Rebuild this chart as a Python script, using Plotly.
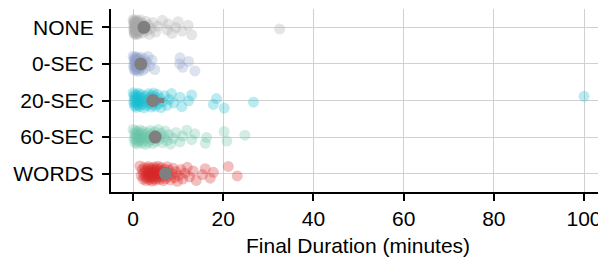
import plotly.graph_objects as go

categories = ["NONE", "0-SEC", "20-SEC", "60-SEC", "WORDS"]
colors = ["#a9a9a9", "#8da0cb", "#17becf", "#66c2a5", "#d62728"]

none_vals = [0.0, 0.1, 0.1, 0.2, 0.2, 0.2, 0.3, 0.3, 0.3, 0.4, 0.4, 0.4, 0.5, 0.5, 0.5, 0.6, 0.6, 0.6,
             0.7, 0.7, 0.7, 0.8, 0.8, 0.9, 0.9, 1.0, 1.0, 1.1, 1.1, 1.2, 1.2, 1.3, 1.4, 1.5, 1.6,
             1.8, 2.0, 2.2, 2.5, 2.8, 3.0, 3.3, 3.6, 4.0, 4.4, 5.0, 5.5, 6.5, 7.5, 7.8, 8.6, 9.5,
             10.0, 10.9, 12.2, 13.0, 32.5]
sec0_vals = [0.0, 0.1, 0.2, 0.2, 0.3, 0.3, 0.4, 0.4, 0.5, 0.5, 0.6, 0.6, 0.7, 0.7, 0.8, 0.8, 0.9, 1.0,
             1.0, 1.1, 1.2, 1.2, 1.3, 1.4, 1.5, 1.6, 1.7, 1.8, 2.0, 2.1, 2.3, 2.5, 2.7, 3.0, 3.3,
             3.7, 4.2, 4.8, 10.3, 10.4, 11.0, 12.3, 13.7]
sec20_vals = [0.0, 0.1, 0.2, 0.3, 0.3, 0.4, 0.5, 0.6, 0.7, 0.8, 0.9, 1.0, 1.1, 1.2, 1.3, 1.4, 1.5,
              1.6, 1.8, 2.0, 2.2, 2.4, 2.6, 2.8, 3.0, 3.2, 3.4, 3.6, 3.8, 4.0, 4.1, 4.2, 4.3, 4.4,
              4.5, 4.6, 4.8, 5.0, 5.2, 5.4, 5.6, 5.9, 6.2, 6.6, 7.0, 7.5, 8.0, 8.5, 9.0, 10.4, 10.8,
              12.3, 13.0, 17.8, 18.5, 20.2, 26.7, 100.0]
sec60_vals = [0.0, 0.2, 0.3, 0.4, 0.5, 0.6, 0.7, 0.8, 0.9, 1.0, 1.1, 1.2, 1.3, 1.5, 1.6, 1.8, 2.0,
              2.1, 2.2, 2.4, 2.6, 2.8, 3.0, 3.2, 3.4, 3.6, 3.8, 4.0, 4.2, 4.4, 4.6, 4.8, 5.0, 5.3,
              5.6, 5.9, 6.2, 6.5, 6.8, 7.1, 7.5, 7.9, 8.3, 8.9, 9.5, 10.4, 11.0, 11.9, 13.0, 13.7,
              16.0, 16.3, 20.2, 20.8, 24.8]
words_vals = [1.5, 1.8, 2.0, 2.2, 2.3, 2.5, 2.6, 2.7, 2.9, 3.0, 3.1, 3.2, 3.3, 3.4, 3.5, 3.6, 3.7,
              3.8, 3.9, 4.0, 4.1, 4.2, 4.3, 4.4, 4.5, 4.6, 4.7, 4.8, 4.9, 5.0, 5.1, 5.2, 5.3, 5.4,
              5.5, 5.6, 5.8, 5.9, 6.0, 6.2, 6.3, 6.5, 6.7, 6.9, 7.0, 7.2, 7.4, 7.6, 7.8, 8.0, 8.3,
              8.6, 8.9, 9.2, 9.5, 9.8, 10.2, 10.6, 11.0, 11.5, 12.0, 12.5, 13.3, 14.0, 15.4, 16.0,
              17.1, 17.8, 21.1, 23.1]

means = [2.4, 1.7, 4.4, 4.9, 7.2]
ci_low = [1.7, 1.2, 3.0, 4.1, 6.4]
ci_high = [3.3, 2.3, 6.9, 5.8, 8.1]

x_ticks = [0, 20, 40, 60, 80, 100]

groups = [none_vals, sec0_vals, sec20_vals, sec60_vals, words_vals]

FONT = "Liberation Sans, Arial, sans-serif"

fig = go.Figure()
for gi, (vals, col) in enumerate(zip(groups, colors)):
    jit = [gi + ((i * 0.6180339887) % 1.0 - 0.5) * 0.42 for i in range(len(vals))]
    fig.add_trace(go.Scatter(
        x=vals, y=jit, mode="markers",
        marker=dict(size=11, color=col, opacity=0.3, line=dict(width=0)),
        showlegend=False, hoverinfo="skip"))

fig.add_trace(go.Scatter(
    x=means, y=list(range(len(categories))), mode="markers",
    marker=dict(size=13, color="#7f7f7f", line=dict(width=0)),
    error_x=dict(type="data", symmetric=False,
                 array=[h - m for h, m in zip(ci_high, means)],
                 arrayminus=[m - l for m, l in zip(means, ci_low)],
                 color="#7f7f7f", thickness=5, width=0),
    showlegend=False, hoverinfo="skip"))

fig.update_layout(
    width=598, height=264,
    margin=dict(l=111, r=0, t=8.5, b=72, autoexpand=False),
    paper_bgcolor="white", plot_bgcolor="white",
    font=dict(family=FONT, size=21, color="black"),
    xaxis=dict(range=[-4.9, 103.1], tickvals=x_ticks, ticktext=[str(v) for v in x_ticks],
               showgrid=True, gridcolor="#d0d0d0", gridwidth=1, zeroline=False,
               showline=True, linecolor="black", linewidth=2, automargin=False,
               ticks="outside", ticklen=7, tickwidth=2, tickcolor="black",
               ticklabeloverflow="allow",
               tickfont=dict(size=21, family=FONT)),
    yaxis=dict(range=[4.5, -0.5], tickvals=list(range(len(categories))), ticktext=categories,
               showgrid=True, gridcolor="#d0d0d0", gridwidth=1, zeroline=False,
               showline=True, linecolor="black", linewidth=2, automargin=False,
               ticks="outside", ticklen=7, tickwidth=2, tickcolor="black",
               tickfont=dict(size=21, family=FONT), ticklabelstandoff=4),
    annotations=[dict(text="Final Duration (minutes)", x=(358 - 111) / 487, y=-0.293,
                      xref="paper", yref="paper", xanchor="center", yanchor="middle",
                      showarrow=False, font=dict(size=21, family=FONT, color="black"))],
)

fig.write_html("out.html", config={"displayModeBar": False},
               post_script="document.body.style.margin='0';document.body.style.overflow='hidden';")
